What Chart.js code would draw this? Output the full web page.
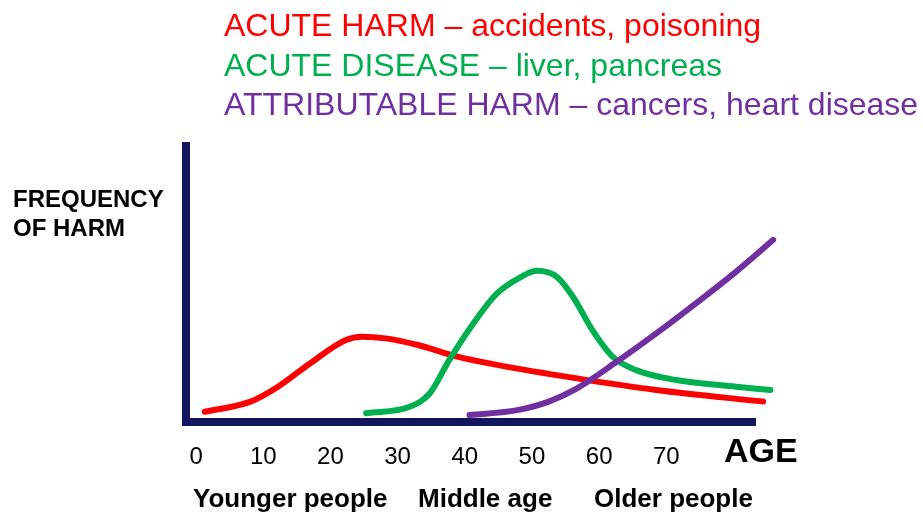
<!DOCTYPE html>
<html lang="en">
<head>
<meta charset="UTF-8">
<title>Frequency of harm by age</title>
<script src="https://cdn.jsdelivr.net/npm/chart.js@4.4.1/dist/chart.umd.min.js"></script>
<style>
  body { margin: 0; background: #ffffff; }
  canvas { display: block; }
</style>
</head>
<body>
<canvas id="harmChart" width="923" height="515"></canvas>
<script>
// series data: age (x) and relative frequency (y, 0-100)
const acuteHarmAges   = [1.3, 8.1, 12.2, 17.0, 22.3, 24.7, 28.2, 33.0, 38.9, 44.8, 56.7, 68.5, 84.4];
const acuteHarmValues = [3.7, 7.4, 12.8, 21.3, 29.7, 30.9, 30.3, 27.9, 23.7, 20.7, 15.8, 11.6, 7.4];

const acuteDiseaseAges   = [25.3, 31.8, 34.8, 37.7, 41.3, 44.8, 48.4, 50.7, 53.7, 56.1, 59.0, 62.0, 65.5, 71.5, 80.4, 85.5];
const acuteDiseaseValues = [3.2, 5.5, 10.4, 22.5, 35.8, 46.6, 52.6, 54.8, 52.6, 45.4, 33.3, 23.7, 18.8, 15.2, 12.8, 11.6];

const attributableAges   = [40.7, 47.8, 52.5, 56.7, 62.6, 68.5, 74.4, 80.4, 85.9, 87.6];
const attributableValues = [2.5, 4.3, 7.4, 12.2, 21.8, 32.1, 43.0, 54.5, 66.0, 69.8];

const ageTicks = [0, 10, 20, 30, 40, 50, 60, 70];
const seriesNames = [
  'ACUTE HARM \u2013 accidents, poisoning',
  'ACUTE DISEASE \u2013 liver, pancreas',
  'ATTRIBUTABLE HARM \u2013 cancers, heart disease'
];
const ageGroups = ['Younger people', 'Middle age', 'Older people'];

const RED = '#ff0000', GREEN = '#00b050', PURPLE = '#7030a0', NAVY = '#14145f';
const FONT = "'Liberation Sans', Arial, sans-serif";

function points(xs, ys) {
  return xs.map((x, i) => ({ x: x, y: ys[i] }));
}

// header lines, y-title, AGE and the age group row
const textPlugin = {
  id: 'texts',
  afterDraw(chart) {
    const ctx = chart.ctx;
    ctx.save();
    ctx.textBaseline = 'alphabetic';
    ctx.textAlign = 'left';

    const colors = [RED, GREEN, PURPLE];
    ctx.font = '32px ' + FONT;
    seriesNames.forEach((t, i) => {
      ctx.fillStyle = colors[i];
      ctx.fillText(t, 224, 36 + i * 39.5);
    });

    ctx.fillStyle = '#000';
    ctx.font = 'bold 24px ' + FONT;
    ctx.fillText('FREQUENCY', 13, 207);
    ctx.fillText('OF HARM', 13, 236);

    ctx.font = 'bold 34px ' + FONT;
    ctx.fillText('AGE', 724, 462);

    ctx.font = 'bold 26px ' + FONT;
    const groupX = [193, 418, 594];
    ageGroups.forEach((t, i) => ctx.fillText(t, groupX[i], 507));
    ctx.restore();
  }
};

const lineStyle = {
  pointRadius: 0,
  borderWidth: 6,
  borderCapStyle: 'round',
  borderJoinStyle: 'round',
  cubicInterpolationMode: 'monotone',
  fill: false,
  clip: false
};

new Chart('harmChart', {
  type: 'line',
  data: {
    datasets: [
      Object.assign({ label: seriesNames[0], data: points(acuteHarmAges, acuteHarmValues), borderColor: RED, order: 2 }, lineStyle),
      Object.assign({ label: seriesNames[1], data: points(acuteDiseaseAges, acuteDiseaseValues), borderColor: GREEN, order: 1 }, lineStyle),
      Object.assign({ label: seriesNames[2], data: points(attributableAges, attributableValues), borderColor: PURPLE, order: 0 }, lineStyle)
    ]
  },
  options: {
    responsive: false,
    animation: false,
    layout: { padding: { left: 186, top: 146, right: 168, bottom: 0 } },
    plugins: { legend: { display: false }, tooltip: { enabled: false } },
    scales: {
      x: {
        type: 'linear',
        min: -1.5,
        max: 83.2,
        afterBuildTicks: s => { s.ticks = ageTicks.map(v => ({ value: v })); },
        afterFit: s => { s.height = 93; },
        ticks: {
          color: '#000',
          font: { family: FONT, size: 24 },
          padding: 21,
          maxRotation: 0,
          autoSkip: false
        },
        grid: { display: false, drawTicks: false },
        border: { color: NAVY, width: 8 }
      },
      y: {
        min: 0,
        max: 100,
        afterFit: s => { s.width = 0; },
        ticks: { display: false },
        grid: { display: false, drawTicks: false },
        border: { color: NAVY, width: 8 }
      }
    }
  },
  plugins: [textPlugin]
});
</script>
</body>
</html>
